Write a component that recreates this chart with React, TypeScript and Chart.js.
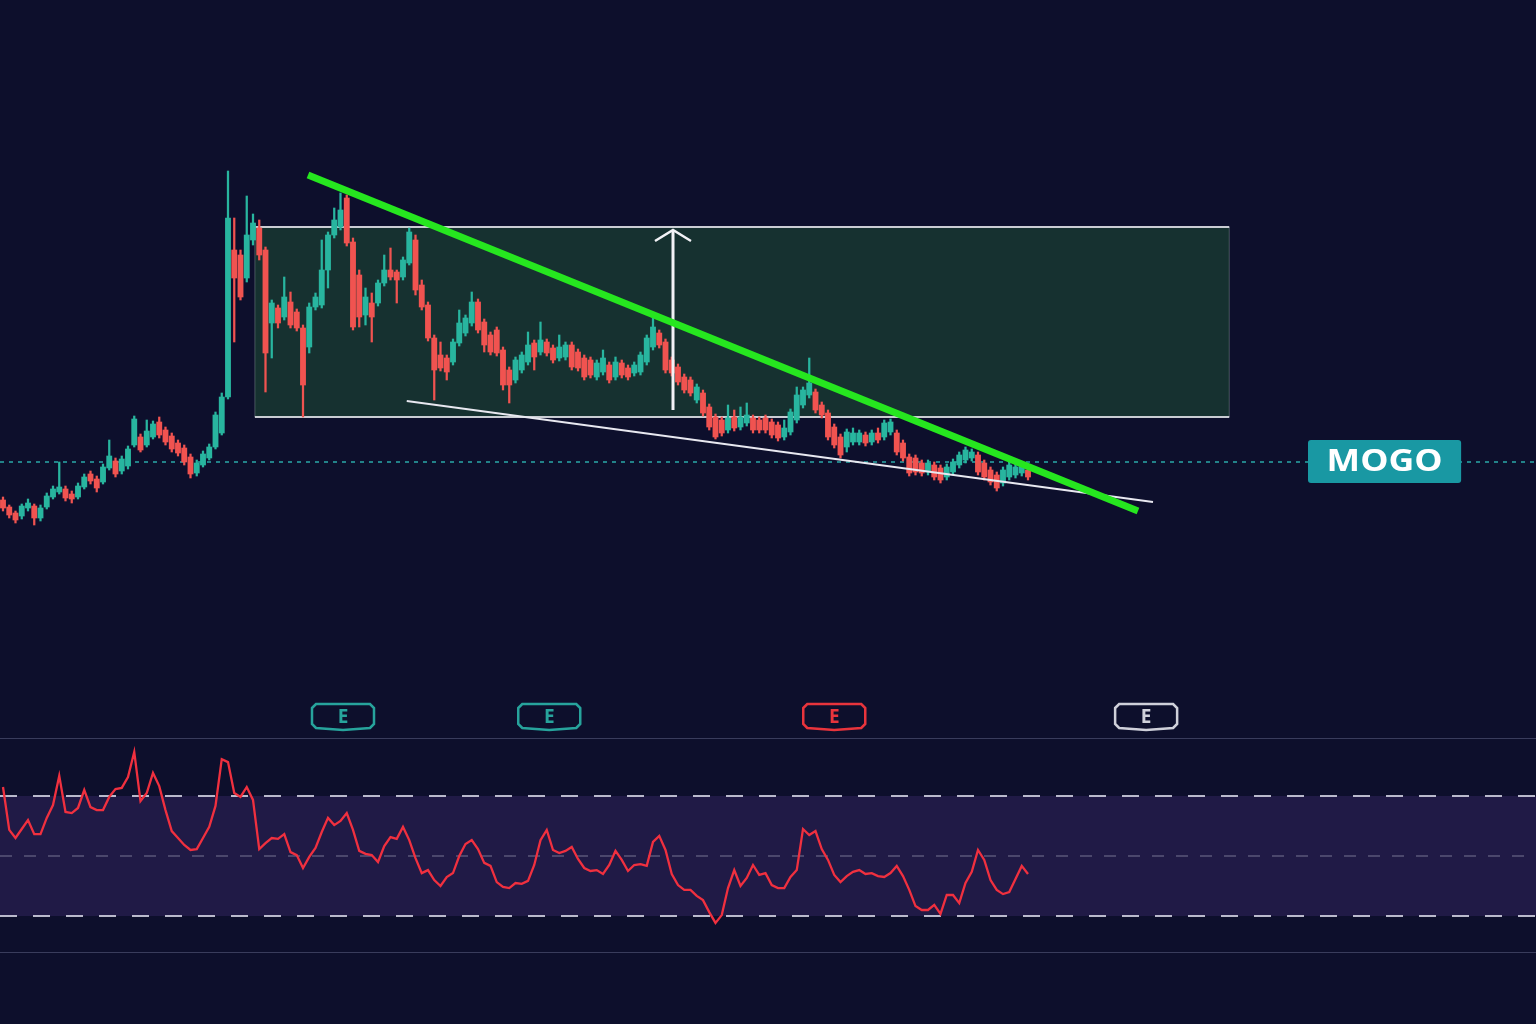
import React, { useEffect, useRef } from 'react';
import { Chart, registerables } from 'chart.js';

Chart.register(...registerables);

// ---------- DATA (price units, one entry per daily bar) ----------
const openP = [
  50.0, 49.3, 48.7, 48.4, 49.2, 49.4, 48.2, 49.3, 50.3, 50.8,
  51.1, 50.6, 50.3, 51.3, 52.6, 52.1, 51.8, 53.2, 53.9, 52.9,
  53.4, 55.5, 56.3, 55.5, 56.3, 57.8, 57.0, 56.4, 55.7, 55.2,
  54.3, 52.7, 53.5, 54.2, 55.3, 56.7, 60.3, 75.0, 74.5, 72.2,
  76.0, 77.2, 75.0, 67.7, 69.2, 68.3, 69.8, 68.8, 67.2, 65.3,
  69.3, 69.5, 73.0, 76.5, 77.3, 80.2, 75.8, 72.5, 68.5, 69.7,
  69.7, 71.7, 73.0, 72.8, 72.3, 73.7, 76.0, 71.5, 69.5, 66.2,
  64.5, 64.2, 63.8, 65.7, 66.7, 67.7, 69.8, 67.8, 66.5, 67.0,
  65.0, 63.0, 62.0, 63.0, 63.8, 65.7, 64.8, 65.8, 65.2, 64.2,
  64.3, 65.5, 64.8, 64.2, 64.0, 62.3, 62.8, 63.5, 62.3, 63.7,
  63.2, 62.7, 62.8, 63.8, 65.3, 66.7, 65.8, 64.0, 63.3, 62.3,
  62.0, 60.0, 60.7, 59.3, 58.3, 58.0, 57.0, 58.3, 57.3, 57.7,
  58.2, 58.0, 58.2, 57.8, 57.5, 56.3, 56.8, 58.0, 59.5, 60.5,
  60.8, 59.5, 58.7, 57.3, 56.3, 55.3, 55.8, 55.8, 56.5, 55.8,
  56.7, 56.3, 56.8, 56.7, 55.7, 54.3, 54.2, 53.7, 52.8, 53.5,
  53.2, 52.3, 52.8, 53.5, 54.0, 54.2, 54.5, 53.7, 53.0, 52.5,
  51.7, 52.3, 52.5, 52.7, 53.0,
];
const highP = [
  50.3, 49.5, 48.9, 49.6, 50.1, 49.6, 49.5, 50.7, 51.4, 53.8,
  51.4, 50.9, 51.7, 52.6, 52.9, 52.4, 53.6, 56.0, 54.2, 54.4,
  55.4, 58.4, 56.6, 58.0, 57.9, 58.3, 57.3, 56.7, 56.0, 55.5,
  54.6, 54.0, 54.9, 55.6, 58.8, 60.7, 82.9, 78.2, 75.0, 80.4,
  78.6, 78.0, 75.3, 70.0, 69.5, 72.3, 70.8, 69.1, 67.5, 69.7,
  70.7, 76.0, 76.8, 79.2, 80.7, 80.5, 76.2, 73.0, 71.2, 70.7,
  72.0, 74.5, 75.2, 73.0, 74.3, 77.2, 76.5, 72.0, 69.8, 66.5,
  65.8, 64.5, 66.1, 69.0, 68.5, 70.8, 70.1, 68.1, 66.8, 67.3,
  65.3, 63.3, 64.3, 64.8, 66.8, 66.0, 67.8, 66.1, 65.5, 66.5,
  65.8, 65.8, 65.1, 64.5, 64.3, 64.0, 65.0, 63.8, 64.3, 64.0,
  63.5, 63.8, 64.8, 66.5, 68.5, 67.0, 66.1, 64.3, 63.6, 62.6,
  62.3, 61.6, 61.0, 59.6, 58.6, 58.3, 59.5, 59.0, 59.3, 59.7,
  58.5, 58.3, 58.5, 58.1, 57.8, 58.0, 59.1, 61.3, 61.3, 64.2,
  61.1, 59.8, 59.0, 57.6, 56.6, 57.1, 57.2, 57.0, 56.8, 57.0,
  57.2, 58.0, 58.1, 57.0, 56.0, 54.6, 54.5, 54.0, 54.0, 53.8,
  53.5, 53.6, 54.1, 54.8, 55.3, 55.1, 54.8, 54.0, 53.3, 52.8,
  53.3, 53.8, 53.6, 53.8, 53.3,
];
const lowP = [
  48.9, 48.2, 47.7, 48.1, 48.9, 47.5, 47.9, 49.1, 50.1, 50.6,
  49.9, 49.7, 50.1, 51.1, 51.6, 50.8, 51.6, 53.0, 52.3, 52.6,
  53.1, 55.3, 54.8, 55.3, 56.1, 56.2, 55.5, 54.8, 54.4, 53.5,
  52.2, 52.4, 53.3, 54.0, 55.1, 56.5, 60.1, 65.8, 70.0, 71.8,
  75.5, 74.0, 60.8, 64.2, 67.2, 68.0, 67.2, 66.9, 58.3, 64.7,
  69.0, 69.2, 71.2, 76.2, 77.0, 75.4, 67.0, 67.3, 67.5, 65.8,
  69.4, 71.4, 72.0, 69.7, 72.0, 73.5, 70.5, 69.0, 65.9, 60.0,
  62.9, 62.0, 63.5, 65.4, 66.4, 67.4, 66.7, 64.8, 64.5, 64.4,
  61.0, 59.7, 61.7, 62.7, 63.5, 63.0, 64.5, 64.4, 63.7, 63.9,
  64.0, 63.0, 62.9, 62.0, 62.2, 62.0, 62.5, 61.7, 62.0, 62.2,
  62.0, 62.4, 62.5, 63.5, 65.0, 65.2, 62.7, 62.4, 61.5, 60.7,
  60.4, 59.7, 58.4, 57.0, 56.1, 56.4, 56.7, 56.9, 57.0, 57.4,
  56.7, 56.7, 56.7, 56.2, 55.9, 56.0, 56.5, 57.7, 59.2, 60.2,
  58.7, 58.2, 56.0, 55.2, 54.2, 54.8, 55.5, 55.5, 55.4, 55.5,
  55.7, 56.0, 56.5, 54.5, 53.9, 52.4, 52.5, 52.4, 52.5, 52.0,
  51.7, 52.0, 52.5, 53.2, 53.7, 53.9, 52.5, 52.0, 51.5, 50.9,
  51.4, 52.0, 52.2, 52.4, 52.0,
];
const closeP = [
  49.2, 48.5, 48.0, 49.4, 49.7, 48.2, 49.2, 50.4, 51.1, 51.3,
  50.2, 50.1, 51.4, 52.3, 51.9, 51.2, 53.3, 54.4, 52.6, 54.1,
  55.1, 58.1, 55.0, 56.9, 57.6, 56.5, 55.8, 55.1, 54.7, 53.8,
  52.6, 53.7, 54.6, 55.3, 58.5, 60.3, 78.2, 72.2, 70.3, 76.5,
  77.7, 74.5, 64.7, 69.7, 67.7, 70.3, 67.5, 67.2, 61.5, 69.3,
  70.3, 73.0, 76.5, 78.0, 79.0, 75.7, 67.3, 68.3, 70.3, 68.3,
  71.7, 73.0, 72.3, 72.0, 74.0, 76.8, 71.0, 69.3, 66.2, 63.0,
  63.2, 62.8, 65.8, 67.7, 68.2, 69.8, 67.0, 65.5, 64.8, 64.7,
  61.5, 61.5, 64.0, 64.5, 65.5, 64.3, 66.0, 64.7, 64.0, 65.3,
  65.5, 63.3, 63.2, 62.3, 62.5, 63.7, 64.2, 62.0, 63.8, 62.5,
  62.3, 63.5, 64.5, 66.2, 67.3, 65.5, 63.0, 62.7, 61.8, 61.0,
  60.7, 61.3, 58.7, 57.3, 56.3, 56.7, 58.2, 57.2, 58.3, 58.5,
  57.0, 57.0, 57.0, 56.5, 56.2, 57.2, 58.8, 60.5, 61.0, 61.7,
  59.0, 58.5, 56.3, 55.5, 54.5, 56.8, 56.7, 56.7, 55.7, 56.7,
  56.0, 57.7, 57.8, 54.8, 54.2, 52.7, 52.8, 52.7, 53.7, 52.3,
  52.0, 53.3, 53.8, 54.5, 55.0, 54.8, 52.8, 52.3, 51.8, 51.2,
  53.0, 53.5, 53.3, 53.5, 52.3,
];
const rsiValues = [
  73.0, 58.7, 56.0, 59.0, 62.0, 57.3, 57.3, 62.7, 67.0, 76.7,
  64.7, 64.3, 66.0, 72.0, 66.3, 65.3, 65.3, 69.7, 72.3, 72.7,
  76.3, 84.7, 68.3, 71.0, 77.7, 73.3, 65.3, 58.3, 56.0, 53.7,
  52.0, 52.3, 56.0, 59.7, 66.7, 82.3, 81.3, 71.0, 69.7, 73.0,
  68.7, 52.3, 54.3, 56.0, 55.7, 57.3, 51.3, 50.3, 46.0, 49.7,
  52.7, 58.0, 62.7, 60.3, 61.7, 64.3, 58.7, 51.7, 50.7, 50.3,
  48.0, 53.3, 56.3, 55.7, 59.7, 55.3, 49.3, 44.3, 45.3, 42.0,
  40.0, 43.0, 44.3, 50.0, 54.0, 55.3, 52.3, 47.7, 46.7, 41.3,
  39.7, 39.3, 41.0, 40.7, 41.7, 47.0, 55.3, 58.7, 52.0, 51.0,
  51.7, 53.0, 49.0, 46.0, 45.0, 45.3, 44.0, 47.0, 51.7, 48.7,
  45.0, 47.0, 47.3, 46.7, 54.7, 56.7, 52.0, 44.0, 40.3, 38.7,
  38.7, 36.7, 35.3, 31.3, 27.7, 30.3, 39.3, 45.3, 40.0, 42.7,
  47.0, 43.7, 44.3, 40.3, 39.3, 39.3, 43.0, 45.3, 59.0, 57.0,
  58.3, 52.3, 48.7, 43.7, 41.3, 43.3, 44.7, 45.3, 44.0, 44.3,
  43.3, 43.0, 44.3, 46.7, 43.3, 38.7, 33.3, 32.0, 32.0, 33.7,
  30.7, 37.0, 37.0, 34.3, 41.0, 44.7, 52.0, 48.7, 42.0, 38.7,
  37.3, 38.0, 42.3, 46.7, 44.0,
];
const rsiLevels = [70, 50, 30];
const tickerLabel = 'MOGO';
const lastPrice = 53.8;

// Drawings (in bar-index / price units)
const boxRange = { x0: 40.3, x1: 196.2, top: 77.3, bottom: 58.3 };
const upperTrend = [[48.8, 82.5], [181.6, 48.9]];
const lowerTrend = [[64.6, 59.9], [184.0, 49.8]];
const targetArrow = { x: 107.2, from: 59.0, to: 77.0 };
const labelRange = { x0: 208.8, x1: 233.3, top: 56.0, bottom: 51.7 };
const earningsX = [54.4, 87.4, 133.0, 182.9];
const earningsKind = ['up', 'up', 'down', 'future'];
const earningsPrice = 28.3;
const paneSeparatorsRsi = [89.3, 18.0];

// ---------- STYLE ----------
const BG = '#0d0f2c';
const UP = '#28b59f';
const DOWN = '#f05350';
const RSI_COLOR = '#f0303f';

export default function App() {
  const ref = useRef<HTMLCanvasElement | null>(null);

  useEffect(() => {
    const canvas = ref.current;
    if (!canvas) return;
    const colors = closeP.map((c, i) => (c >= openP[i] ? UP : DOWN));
    const wickData = lowP.map((l, i) => ({ x: i, y: [l, highP[i]] }));
    const bodyData = openP.map((o, i) => ({ x: i, y: [o, closeP[i]] }));
    const rsiData = rsiValues.map((v, i) => ({ x: i, y: v }));

    const overlay = {
      id: 'overlay',
      beforeDraw(chart: any) {
        const { ctx, width, height } = chart;
        ctx.save();
        ctx.fillStyle = BG;
        ctx.fillRect(0, 0, width, height);
        ctx.restore();
      },
      beforeDatasetsDraw(chart: any) {
        const { ctx, width } = chart;
        const xs = chart.scales.x, ys = chart.scales.y, rs = chart.scales.yR;
        ctx.save();
        // RSI band
        const b70 = rs.getPixelForValue(70), b30 = rs.getPixelForValue(30);
        ctx.fillStyle = 'rgba(130,85,200,0.17)';
        ctx.fillRect(0, b70, width, b30 - b70);
        // pane separators
        ctx.strokeStyle = 'rgba(110,115,150,0.45)';
        ctx.lineWidth = 1;
        paneSeparatorsRsi.forEach((v) => {
          const py = Math.round(rs.getPixelForValue(v)) + 0.5;
          ctx.beginPath(); ctx.moveTo(0, py); ctx.lineTo(width, py); ctx.stroke();
        });
        // RSI level lines
        rsiLevels.forEach((lv) => {
          const py = rs.getPixelForValue(lv);
          if (lv === 50) {
            ctx.strokeStyle = 'rgba(175,175,200,0.5)';
            ctx.lineWidth = 1.2;
            ctx.setLineDash([12, 12]);
          } else {
            ctx.strokeStyle = 'rgba(215,215,230,0.85)';
            ctx.lineWidth = 2;
            ctx.setLineDash([17, 16]);
          }
          ctx.beginPath(); ctx.moveTo(0, py); ctx.lineTo(width, py); ctx.stroke();
        });
        ctx.setLineDash([]);
        // range box
        const bx0 = xs.getPixelForValue(boxRange.x0), bx1 = xs.getPixelForValue(boxRange.x1);
        const by0 = ys.getPixelForValue(boxRange.top), by1 = ys.getPixelForValue(boxRange.bottom);
        ctx.fillStyle = '#163130';
        ctx.fillRect(bx0, by0, bx1 - bx0, by1 - by0);
        ctx.strokeStyle = 'rgba(200,205,210,0.3)';
        ctx.lineWidth = 1;
        ctx.beginPath();
        ctx.moveTo(bx0, by0); ctx.lineTo(bx0, by1);
        ctx.moveTo(bx1, by0); ctx.lineTo(bx1, by1);
        ctx.stroke();
        ctx.strokeStyle = '#c9ccd3';
        ctx.lineWidth = 2;
        ctx.beginPath();
        ctx.moveTo(bx0, by0); ctx.lineTo(bx1, by0);
        ctx.moveTo(bx0, by1); ctx.lineTo(bx1, by1);
        ctx.stroke();
        // last price line
        const lp = ys.getPixelForValue(lastPrice);
        ctx.strokeStyle = '#2aa9a8';
        ctx.lineWidth = 1.5;
        ctx.setLineDash([4, 5]);
        ctx.beginPath(); ctx.moveTo(0, lp); ctx.lineTo(width, lp); ctx.stroke();
        ctx.setLineDash([]);
        ctx.restore();
      },
      afterDatasetsDraw(chart: any) {
        const { ctx } = chart;
        const xs = chart.scales.x, ys = chart.scales.y;
        const P = (pt: number[]) => [xs.getPixelForValue(pt[0]), ys.getPixelForValue(pt[1])];
        ctx.save();
        // lower (white) trendline
        let a = P(lowerTrend[0]), b = P(lowerTrend[1]);
        ctx.strokeStyle = '#e8e8f0';
        ctx.lineWidth = 1.8;
        ctx.beginPath(); ctx.moveTo(a[0], a[1]); ctx.lineTo(b[0], b[1]); ctx.stroke();
        // target arrow
        const ax = xs.getPixelForValue(targetArrow.x);
        const ay0 = ys.getPixelForValue(targetArrow.from), ay1 = ys.getPixelForValue(targetArrow.to);
        ctx.strokeStyle = '#f2f2f6';
        ctx.lineWidth = 3;
        ctx.beginPath(); ctx.moveTo(ax, ay0); ctx.lineTo(ax, ay1 + 1); ctx.stroke();
        ctx.lineWidth = 2.5;
        ctx.beginPath(); ctx.moveTo(ax - 18, ay1 + 11); ctx.lineTo(ax, ay1); ctx.lineTo(ax + 18, ay1 + 11); ctx.stroke();
        // upper (green) trendline
        a = P(upperTrend[0]); b = P(upperTrend[1]);
        ctx.strokeStyle = '#26e61f';
        ctx.lineWidth = 7;
        ctx.beginPath(); ctx.moveTo(a[0], a[1]); ctx.lineTo(b[0], b[1]); ctx.stroke();
        // ticker label
        const lx0 = xs.getPixelForValue(labelRange.x0), lx1 = xs.getPixelForValue(labelRange.x1);
        const ly0 = ys.getPixelForValue(labelRange.top), ly1 = ys.getPixelForValue(labelRange.bottom);
        ctx.fillStyle = '#1998a3';
        ctx.beginPath();
        (ctx as any).roundRect(lx0, ly0, lx1 - lx0, ly1 - ly0, 3);
        ctx.fill();
        ctx.fillStyle = '#ffffff';
        ctx.font = 'bold 30px "Open Sans"';
        ctx.textAlign = 'center';
        ctx.textBaseline = 'middle';
        const tw = ctx.measureText(tickerLabel).width;
        const cx = (lx0 + lx1) / 2, cy = (ly0 + ly1) / 2 + 1;
        ctx.save();
        ctx.translate(cx, cy);
        ctx.scale(116 / tw, 1);
        ctx.fillText(tickerLabel, 0, 0);
        ctx.restore();
        // earnings markers
        const ey = ys.getPixelForValue(earningsPrice);
        earningsX.forEach((ex, k) => {
          const px = xs.getPixelForValue(ex);
          const kind = earningsKind[k];
          const col = kind === 'up' ? '#27a39c' : kind === 'down' ? '#e8343c' : '#cfd0da';
          ctx.beginPath();
          ctx.moveTo(px - 31, ey - 9);
          ctx.lineTo(px - 27, ey - 13);
          ctx.lineTo(px + 27, ey - 13);
          ctx.lineTo(px + 31, ey - 9);
          ctx.lineTo(px + 31, ey + 7);
          ctx.lineTo(px + 27, ey + 11);
          ctx.lineTo(px, ey + 13);
          ctx.lineTo(px - 27, ey + 11);
          ctx.lineTo(px - 31, ey + 7);
          ctx.closePath();
          ctx.fillStyle = BG;
          ctx.fill();
          ctx.strokeStyle = col;
          ctx.lineWidth = 2.5;
          ctx.stroke();
          ctx.fillStyle = col;
          ctx.font = 'bold 19px "Open Sans"';
          ctx.textAlign = 'center';
          ctx.textBaseline = 'middle';
          ctx.fillText('E', px, ey + 1);
        });
        ctx.restore();
      },
    };

    const chart = new Chart(canvas, {
      type: 'bar',
      data: {
        datasets: [
          {
            type: 'line',
            data: rsiData as any,
            yAxisID: 'yR',
            borderColor: RSI_COLOR,
            borderWidth: 2.3,
            pointRadius: 0,
            tension: 0,
            order: 0,
          } as any,
          {
            data: bodyData as any,
            backgroundColor: colors,
            barThickness: 5.2,
            minBarLength: 1.5,
            grouped: false,
            borderWidth: 0,
            yAxisID: 'y',
            order: 1,
          } as any,
          {
            data: wickData as any,
            backgroundColor: colors,
            barThickness: 1.6,
            grouped: false,
            borderWidth: 0,
            yAxisID: 'y',
            order: 2,
          } as any,
        ],
      },
      options: {
        responsive: false,
        animation: false,
        devicePixelRatio: 1,
        events: [],
        layout: { padding: 0 },
        plugins: { legend: { display: false }, tooltip: { enabled: false } },
        scales: {
          x: { type: 'linear', min: -0.48, max: 245.28, display: false, offset: false },
          y: { type: 'linear', min: -2.4, max: 100, display: false },
          yR: { type: 'linear', min: -6, max: 335.333, display: false },
        },
      } as any,
      plugins: [overlay as any],
    });
    return () => chart.destroy();
  }, []);

  return (
    <div style={{ position: 'fixed', left: 0, top: 0, width: 1536, height: 1024, background: BG }}>
      <canvas ref={ref} width={1536} height={1024} style={{ display: 'block' }} />
    </div>
  );
}
